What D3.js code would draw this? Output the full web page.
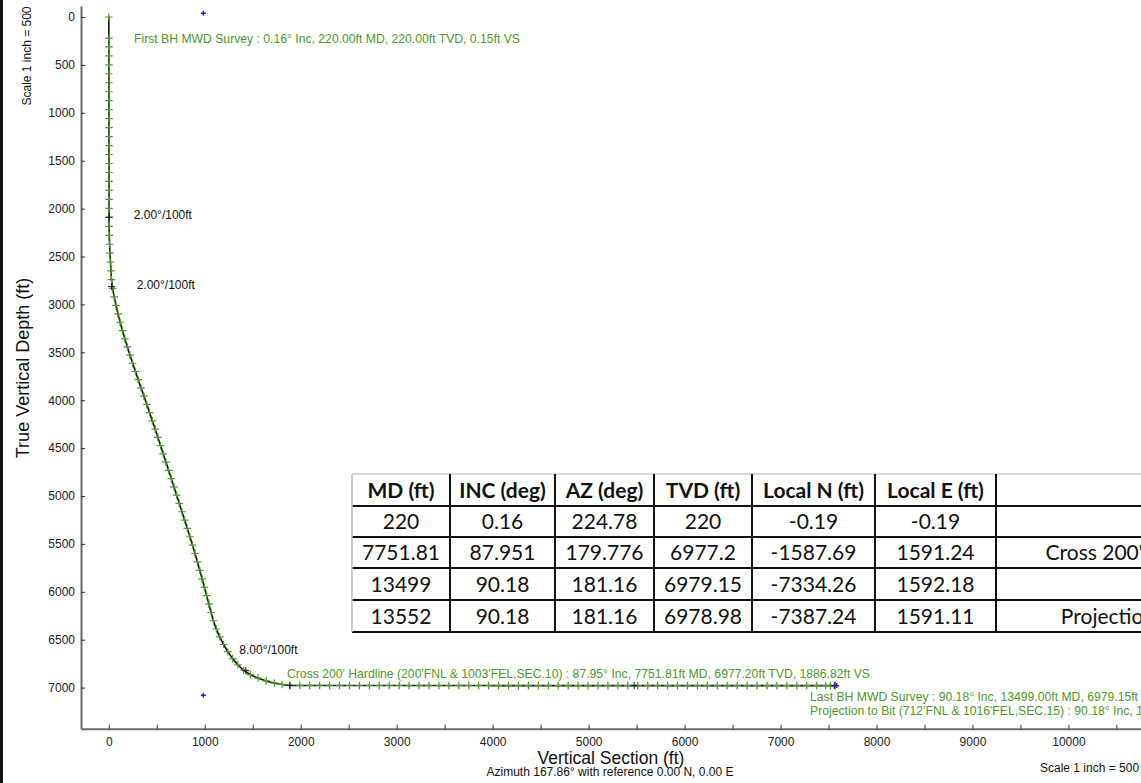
<!DOCTYPE html>
<html>
<head>
<meta charset="utf-8">
<script src="https://cdn.jsdelivr.net/npm/d3@7"></script>
<style>
  html, body { margin: 0; padding: 0; background: #fff; overflow: hidden; }
  svg { display: block; font-family: "Liberation Sans", Arial, sans-serif; }
</style>
</head>
<body>
<svg id="chart" width="1141" height="783"></svg>
<script>
// survey stations as [vertical section ft, true vertical depth ft]
const surveys = [
  [0, 0], [0.15, 220], [0.3, 312], [0.4, 405], [0.5, 499], [0.6, 592], [0.7, 686], [0.8, 780],
  [0.9, 873], [1, 967], [1.1, 1061], [1.2, 1154], [1.3, 1248], [1.4, 1342], [1.5, 1435], [1.6, 1529],
  [1.7, 1623], [1.8, 1716], [1.9, 1810], [2, 1904], [2.1, 1997], [2.2, 2091],
  [3, 2185], [5, 2279], [8, 2372], [12, 2465], [17, 2557], [22, 2649], [28, 2741], [40, 2832],
  [56, 2922], [75, 3011], [96, 3099], [118, 3186], [142, 3273], [167, 3359], [193, 3444], [220, 3529],
  [248, 3614], [277, 3700], [306, 3786], [336, 3872], [366, 3958], [396, 4044], [425, 4130], [454, 4216],
  [483, 4302], [511, 4388], [539, 4474], [567, 4560], [595, 4646], [623, 4732], [651, 4818], [679, 4904],
  [706, 4990], [734, 5077], [762, 5164], [790, 5251], [818, 5338], [845, 5425], [872, 5512], [898, 5600],
  [923, 5688], [948, 5776], [972, 5864], [996, 5952], [1020, 6040], [1043, 6128], [1066, 6216],
  [1090, 6302], [1120, 6388], [1156, 6470], [1196, 6550], [1240, 6625], [1290, 6697], [1345, 6762],
  [1405, 6818], [1475, 6864], [1555, 6900], [1640, 6930], [1725, 6952], [1805, 6967], [1886.82, 6977.2],
  [1990, 6977.3], [2093, 6977.4], [2197, 6977.5], [2300, 6977.6], [2404, 6977.7], [2508, 6977.7],
  [2611, 6977.8], [2715, 6977.9], [2818, 6978.0], [2922, 6978.0], [3026, 6978.1], [3129, 6978.2],
  [3233, 6978.3], [3336, 6978.3], [3440, 6978.4], [3544, 6978.4], [3647, 6978.5], [3751, 6978.5],
  [3854, 6978.6], [3958, 6978.6], [4062, 6978.7], [4165, 6978.7], [4269, 6978.8], [4372, 6978.8],
  [4476, 6978.8], [4580, 6978.9], [4683, 6978.9], [4787, 6978.9], [4890, 6979.0], [4994, 6979.0],
  [5098, 6979.0], [5201, 6979.0], [5305, 6979.1], [5408, 6979.1], [5512, 6979.1], [5616, 6979.1],
  [5719, 6979.1], [5823, 6979.1], [5926, 6979.1], [6030, 6979.1], [6134, 6979.2], [6237, 6979.2],
  [6341, 6979.2], [6444, 6979.2], [6548, 6979.2], [6652, 6979.2], [6755, 6979.2], [6859, 6979.2],
  [6962, 6979.2], [7066, 6979.2], [7170, 6979.2], [7273, 6979.2], [7377, 6979.2], [7470, 6979.15],
  [7519.8, 6979.15], [7572, 6978.98]
];

// plan markers (black) and target points (blue)
const planPoints = [[2, 2090], [30, 2815], [1427, 6824], [1887, 6977], [5475, 6978], [7560, 6979]];
const targetPoints = [[985, -40], [985, 7080], [7585, 6979]];

const xTicks = d3.range(0, 11001, 500);
const yTicks = d3.range(0, 7001, 500);

const rateLabels = [
  { text: "2.00°/100ft", vs: 260, tvd: 2110 },
  { text: "2.00°/100ft", vs: 290, tvd: 2840 },
  { text: "8.00°/100ft", vs: 1360, tvd: 6650 }
];
const surveyLabels = [
  "First BH MWD Survey : 0.16° Inc, 220.00ft MD, 220.00ft TVD, 0.15ft VS",
  "Cross 200' Hardline (200'FNL & 1003'FEL,SEC.10) : 87.95° Inc, 7751.81ft MD, 6977.20ft TVD, 1886.82ft VS",
  "Last BH MWD Survey : 90.18° Inc, 13499.00ft MD, 6979.15ft TVD, 7519.83ft VS",
  "Projection to Bit (712'FNL & 1016'FEL,SEC.15) : 90.18° Inc, 13552.00ft MD, 6978.98ft TVD, 7571.86ft VS"
];

const tableHeader = ["MD (ft)", "INC (deg)", "AZ (deg)", "TVD (ft)", "Local N (ft)", "Local E (ft)", ""];
const tableRows = [
  ["220", "0.16", "224.78", "220", "-0.19", "-0.19", ""],
  ["7751.81", "87.951", "179.776", "6977.2", "-1587.69", "1591.24", "Cross 200' Hardline"],
  ["13499", "90.18", "181.16", "6979.15", "-7334.26", "1592.18", ""],
  ["13552", "90.18", "181.16", "6978.98", "-7387.24", "1591.11", "Projection to Bit"]
];
const colEdges = [352, 450, 555, 654, 752, 875, 996, 1276];
const rowEdges = [474, 506, 537, 568, 600, 632];

const svg = d3.select("#chart");
const green = "#4e9a2a";

// equal scale, 1 inch = 500 ft
const x = d3.scaleLinear().domain([-290, 11600]).range([81, 81 + 11890 * 0.09596]);
const y = d3.scaleLinear().domain([-115, 7430]).range([6, 6 + 7545 * 0.0958]);

// axes
const xAxis = svg.append("g")
  .attr("transform", `translate(0,${y(7430)})`)
  .call(d3.axisBottom(x).tickValues(xTicks).tickSizeInner(-4).tickSizeOuter(0).tickPadding(9)
    .tickFormat(d => d % 1000 === 0 ? d3.format("d")(d) : ""));
xAxis.select(".domain").attr("stroke", "#6a6a6a").attr("stroke-width", 2);
xAxis.selectAll(".tick line").attr("stroke", "#333");
xAxis.selectAll("text").attr("font-size", 12).attr("fill", "#222").attr("font-family", "Liberation Sans, Arial");

const yAxis = svg.append("g")
  .attr("transform", `translate(${x(-290)},0)`)
  .call(d3.axisLeft(y).tickValues(yTicks).tickSizeInner(-4).tickSizeOuter(0).tickPadding(6)
    .tickFormat(d3.format("d")));
yAxis.select(".domain").attr("stroke", "#6a6a6a").attr("stroke-width", 2);
yAxis.selectAll(".tick line").attr("stroke", "#333");
yAxis.selectAll("text").attr("font-size", 12).attr("fill", "#222").attr("font-family", "Liberation Sans, Arial");

// left border of the plot image
svg.append("rect").attr("x", 0).attr("y", 0).attr("width", 3).attr("height", 783).attr("fill", "#111");

// axis titles
svg.append("text")
  .attr("transform", "translate(29,368) rotate(-90)")
  .attr("text-anchor", "middle").attr("font-size", 18).attr("fill", "#111")
  .text("True Vertical Depth (ft)");
svg.append("text")
  .attr("transform", "translate(31,56) rotate(-90)")
  .attr("text-anchor", "middle").attr("font-size", 12).attr("fill", "#111")
  .text("Scale 1 inch = 500");
svg.append("text")
  .attr("x", 611).attr("y", 764)
  .attr("text-anchor", "middle").attr("font-size", 17.5).attr("fill", "#111")
  .text("Vertical Section (ft)");
svg.append("text")
  .attr("x", 610).attr("y", 776)
  .attr("text-anchor", "middle").attr("font-size", 12).attr("fill", "#111")
  .text("Azimuth 167.86° with reference 0.00 N, 0.00 E");
svg.append("text")
  .attr("x", 1040).attr("y", 772)
  .attr("font-size", 12).attr("fill", "#111")
  .text("Scale 1 inch = 500");

// wellbore path
const line = d3.line().x(d => x(d[0])).y(d => y(d[1])).curve(d3.curveMonotoneY);
svg.append("path")
  .datum(surveys.filter(d => d[0] < 1887))
  .attr("fill", "none").attr("stroke", "#111").attr("stroke-width", 1.6)
  .attr("d", line);
svg.append("path")
  .datum(surveys.filter(d => d[0] >= 1886))
  .attr("fill", "none").attr("stroke", "#111").attr("stroke-width", 1.6)
  .attr("d", d3.line().x(d => x(d[0])).y(d => y(d[1])));

const cross = s => `M${-s},0H${s}M0,${-s}V${s}`;

// survey station markers
svg.append("g").selectAll("path")
  .data(surveys)
  .join("path")
  .attr("transform", d => `translate(${x(d[0])},${y(d[1])})`)
  .attr("d", cross(3.8))
  .attr("fill", "none").attr("stroke", green).attr("stroke-width", 1.2);

svg.append("g").selectAll("path")
  .data(planPoints)
  .join("path")
  .attr("transform", d => `translate(${x(d[0])},${y(d[1])})`)
  .attr("d", cross(3.5))
  .attr("fill", "none").attr("stroke", "#111").attr("stroke-width", 1);

svg.append("g").selectAll("path")
  .data(targetPoints)
  .join("path")
  .attr("transform", d => `translate(${x(d[0])},${y(d[1])})`)
  .attr("d", cross(2.5))
  .attr("fill", "none").attr("stroke", "#1a1aff").attr("stroke-width", 1.4);

// annotations
svg.append("g").selectAll("text")
  .data(rateLabels)
  .join("text")
  .attr("x", d => x(d.vs)).attr("y", d => y(d.tvd))
  .attr("font-size", 12).attr("fill", "#111")
  .text(d => d.text);

svg.append("g").selectAll("text")
  .data(surveyLabels)
  .join("text")
  .attr("x", (d, i) => [134, 287, 810, 810][i])
  .attr("y", (d, i) => [43, 678, 701, 715][i])
  .attr("font-size", 12.2).attr("fill", green)
  .text(d => d);

// survey table
const table = svg.append("g").attr("font-family", "Lato, 'Open Sans', sans-serif").attr("fill", "#111");
table.append("rect")
  .attr("x", colEdges[0]).attr("y", rowEdges[0])
  .attr("width", colEdges[colEdges.length - 1] - colEdges[0])
  .attr("height", rowEdges[rowEdges.length - 1] - rowEdges[0])
  .attr("fill", "#fff");
[tableHeader, ...tableRows].forEach((row, r) => {
  row.forEach((cell, c) => {
    table.append("text")
      .attr("x", (colEdges[c] + colEdges[c + 1]) / 2)
      .attr("y", (rowEdges[r] + rowEdges[r + 1]) / 2 + 7.5)
      .attr("text-anchor", "middle")
      .attr("font-size", 21)
      .attr("font-weight", r === 0 ? "bold" : "normal")
      .text(cell);
  });
});
rowEdges.forEach((ry, i) => {
  table.append("line")
    .attr("x1", colEdges[0]).attr("x2", colEdges[colEdges.length - 1])
    .attr("y1", ry).attr("y2", ry)
    .attr("stroke", i === 0 ? "#ccc" : "#111").attr("stroke-width", i === 0 ? 1.5 : 2);
});
colEdges.slice(0, -1).forEach((cx, i) => {
  table.append("line")
    .attr("x1", cx).attr("x2", cx)
    .attr("y1", rowEdges[0]).attr("y2", rowEdges[rowEdges.length - 1])
    .attr("stroke", i === 0 ? "#bbb" : "#111").attr("stroke-width", i === 0 ? 1.5 : 2);
});
</script>
</body>
</html>
